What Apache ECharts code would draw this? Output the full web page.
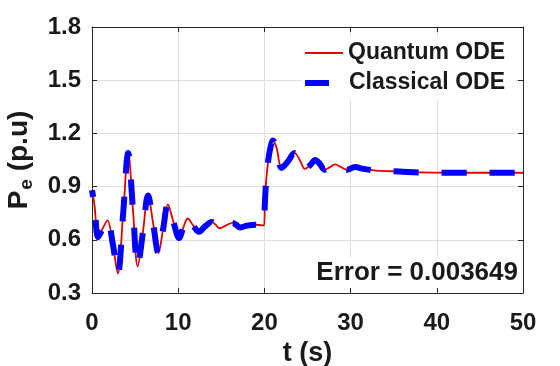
<!DOCTYPE html>
<html>
<head>
<meta charset="utf-8">
<script src="https://cdn.jsdelivr.net/npm/echarts@6/dist/echarts.min.js"></script>
<style>html,body{margin:0;padding:0;background:#fff}#c{width:560px;height:366px}</style>
</head>
<body>
<div id="c"></div>
<script>
// time samples (s)
const tVals = [0, 0.3, 0.7, 1.2, 1.8, 2.4, 3.0, 3.6, 4.2, 4.75, 5.3, 5.9, 6.5, 7.1, 7.7, 8.25, 8.8, 9.45, 10.1, 10.6, 11.1, 11.75, 12.4, 13.1, 13.9, 14.35, 14.8, 15.5, 16.3, 16.7, 17.2, 18.0, 19.0, 19.95, 20.05, 20.2, 20.45, 20.7, 21.0, 21.4, 22.0, 22.7, 23.5, 24.1, 24.7, 25.3, 25.9, 26.4, 27.0, 27.6, 28.2, 28.9, 29.6, 30.5, 31.5, 33.0, 35.7, 38.0, 42.0, 46.0, 50.0];
// Quantum ODE P_e (p.u)
const quantumVals = [0.88, 0.79, 0.615, 0.66, 0.71, 0.58, 0.41, 0.74, 1.09, 0.77, 0.45, 0.64, 0.85, 0.69, 0.525, 0.66, 0.80, 0.70, 0.61, 0.67, 0.72, 0.68, 0.645, 0.675, 0.70, 0.685, 0.665, 0.68, 0.695, 0.685, 0.67, 0.68, 0.685, 0.68, 0.80, 0.93, 1.05, 1.12, 1.16, 1.12, 1.005, 1.04, 1.09, 1.05, 1.0, 1.02, 1.05, 1.03, 0.995, 1.01, 1.025, 1.01, 0.995, 1.01, 1.0, 0.99, 0.985, 0.98, 0.978, 0.978, 0.978];
// Classical ODE P_e (p.u)
const classicalVals = [0.88, 0.79, 0.615, 0.66, 0.71, 0.58, 0.41, 0.74, 1.09, 0.77, 0.45, 0.64, 0.85, 0.69, 0.525, 0.66, 0.80, 0.70, 0.61, 0.67, 0.72, 0.68, 0.645, 0.675, 0.70, 0.685, 0.665, 0.68, 0.695, 0.685, 0.67, 0.68, 0.685, 0.68, 0.80, 0.93, 1.05, 1.12, 1.16, 1.12, 1.005, 1.04, 1.09, 1.05, 1.0, 1.02, 1.05, 1.03, 0.995, 1.01, 1.025, 1.01, 0.995, 1.01, 1.0, 0.99, 0.985, 0.98, 0.978, 0.978, 0.978];
const seriesNames = ['Quantum ODE', 'Classical ODE'];
const errorText = 'Error = 0.003649';

const FONT = '"Liberation Sans", Arial, Helvetica, sans-serif';
const TXT = '#1a1a1a';
const chart = echarts.init(document.getElementById('c'), null, {renderer: 'canvas'});

const mk = vals => tVals.map((t, i) => [t, vals[i]]);
const tick = {show: true, inside: true, length: 5, lineStyle: {color: '#262626', width: 1}};
const aline = {show: true, onZero: false, lineStyle: {color: '#262626', width: 1}};
const lbl = {color: TXT, fontFamily: FONT, fontWeight: 'bold', fontSize: 24};

chart.setOption({
  animation: false,
  backgroundColor: '#fff',
  grid: {left: 92, right: 37, top: 27, bottom: 73, show: false, containLabel: false, outerBoundsMode: 'none'},
  legend: [
    {data: [{name: seriesNames[0], icon: 'rect'}], left: 302, top: 37, padding: [4, 10, 3, 3],
     itemWidth: 38, itemHeight: 2, backgroundColor: '#fff', selectedMode: false,
     textStyle: {color: TXT, fontFamily: FONT, fontWeight: 'bold', fontSize: 23, lineHeight: 24}},
    {data: [{name: seriesNames[1], icon: 'rect'}], left: 302, top: 68, padding: [3, 10, 5, 3],
     itemWidth: 24, itemHeight: 6, backgroundColor: '#fff', selectedMode: false,
     textStyle: {color: TXT, fontFamily: FONT, fontWeight: 'bold', fontSize: 23, lineHeight: 24, padding: [0, 0, 0, 15]}}
  ],
  xAxis: [
    {type: 'value', min: 0, max: 50, interval: 10, position: 'bottom',
     name: 't (s)', nameLocation: 'middle', nameGap: 41,
     nameTextStyle: {color: TXT, fontFamily: FONT, fontWeight: 'bold', fontSize: 27},
     axisLine: aline, axisTick: tick,
     axisLabel: Object.assign({margin: 18}, lbl),
     splitLine: {show: true, lineStyle: {color: '#dedede', width: 1}}},
    {type: 'value', min: 0, max: 50, interval: 10, position: 'top',
     axisLine: aline, axisTick: tick, axisLabel: {show: false}, splitLine: {show: false}}
  ],
  yAxis: [
    {type: 'value', min: 0.3, max: 1.8, interval: 0.3, position: 'left',
     name: '{p|P}{e|e}{p| (p.u)}', nameLocation: 'middle', nameGap: 58, nameRotate: 90,
     nameTextStyle: {color: TXT, fontFamily: FONT, fontWeight: 'bold', fontSize: 28,
       rich: {p: {color: TXT, fontFamily: FONT, fontWeight: 'bold', fontSize: 28, lineHeight: 30},
              e: {color: TXT, fontFamily: FONT, fontWeight: 'bold', fontSize: 19, lineHeight: 20, padding: [16, 0, 0, 1]}}},
     axisLine: aline, axisTick: tick,
     axisLabel: Object.assign({margin: 11, formatter: v => v.toFixed(1)}, lbl),
     splitLine: {show: true, lineStyle: {color: '#dedede', width: 1}}},
    {type: 'value', min: 0.3, max: 1.8, interval: 0.3, position: 'right',
     axisLine: aline, axisTick: tick, axisLabel: {show: false}, splitLine: {show: false}}
  ],
  series: [
    {name: seriesNames[0], type: 'line', data: mk(quantumVals), showSymbol: false, symbol: 'none',
     smooth: 0.35, color: '#e00000', lineStyle: {color: '#e00000', width: 1.8}, z: 3},
    {name: seriesNames[1], type: 'line', data: mk(classicalVals), showSymbol: false, symbol: 'none',
     smooth: 0.35, color: '#0000ff', lineStyle: {color: '#0000ff', width: 6, type: [25, 23], dashOffset: 18, cap: 'butt', join: 'round'}, z: 4}
  ],
  graphic: [
    {type: 'text', right: 39, top: 258, z: 10,
     style: {text: errorText, fill: TXT, font: 'bold 26px ' + FONT, backgroundColor: '#fff', padding: [2, 3, 2, 3]}}
  ]
});
</script>
</body>
</html>
